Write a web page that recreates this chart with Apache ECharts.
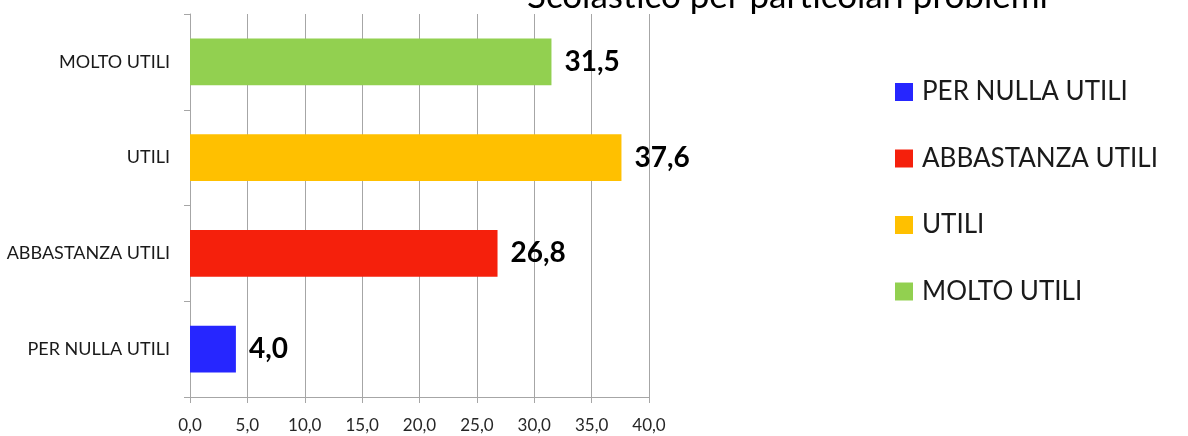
<!DOCTYPE html>
<html>
<head>
<meta charset="utf-8">
<script src="https://cdn.jsdelivr.net/npm/echarts@6/dist/echarts.min.js"></script>
<style>html,body{margin:0;padding:0;background:#fff}#c{width:1188px;height:436px}</style>
</head>
<body>
<div id="c"></div>
<script>
const categories = ['PER NULLA UTILI', 'ABBASTANZA UTILI', 'UTILI', 'MOLTO UTILI'];
const values = [4.0, 26.8, 37.6, 31.5];
const seriesNames = ['PER NULLA UTILI', 'ABBASTANZA UTILI', 'UTILI', 'MOLTO UTILI'];
const colors = ['#2626FF', '#F5200C', '#FFC000', '#92D050'];
const xTicks = [0, 5, 10, 15, 20, 25, 30, 35, 40];
const titleText = 'Scolastico per particolari problemi';

const FONT = 'Lato';
const chart = echarts.init(document.getElementById('c'), null, {renderer: 'canvas'});
const fmt = v => Number(v).toFixed(1).replace('.', ',');

const series = seriesNames.map((name, i) => ({
  name: name,
  type: 'bar',
  stack: 'all',
  barWidth: '49%',
  itemStyle: {color: colors[i]},
  data: categories.map((c, j) => j === i ? values[j] : '-'),
  label: {
    show: true,
    position: 'right',
    distance: 13,
    formatter: p => fmt(p.value),
    fontFamily: FONT,
    fontSize: 28,
    fontWeight: 'bold',
    color: '#000'
  }
}));

chart.setOption({
  animation: false,
  title: {
    text: titleText,
    left: 527,
    top: -21,
    padding: 0,
    textStyle: {fontFamily: FONT, fontSize: 35, fontWeight: 'normal', color: '#000'}
  },
  legend: {
    orient: 'vertical',
    left: 895,
    top: 79,
    padding: 0,
    itemWidth: 18,
    itemHeight: 18,
    itemGap: 40.5,
    icon: 'rect',
    data: seriesNames,
    textStyle: {fontFamily: FONT, fontSize: 26, color: '#1a1a1a', lineHeight: 24, padding: [0, 0, 0, 4]}
  },
  grid: {left: 190, right: 539, top: 14, bottom: 39, containLabel: false},
  xAxis: {
    type: 'value',
    min: xTicks[0],
    max: xTicks[xTicks.length - 1],
    interval: 5,
    axisLine: {show: true, lineStyle: {color: '#A6A6A6'}},
    axisTick: {show: true, length: 6, lineStyle: {color: '#A6A6A6'}},
    splitLine: {show: true, lineStyle: {color: '#A6A6A6'}},
    axisLabel: {formatter: v => fmt(v), fontFamily: FONT, fontSize: 17, color: '#262626', margin: 20}
  },
  yAxis: {
    type: 'category',
    data: categories,
    axisLine: {show: true, lineStyle: {color: '#A6A6A6'}},
    axisTick: {show: true, length: 6, lineStyle: {color: '#A6A6A6'}},
    axisLabel: {fontFamily: FONT, fontSize: 18, color: '#1a1a1a', margin: 20}
  },
  series: series
});
</script>
</body>
</html>
